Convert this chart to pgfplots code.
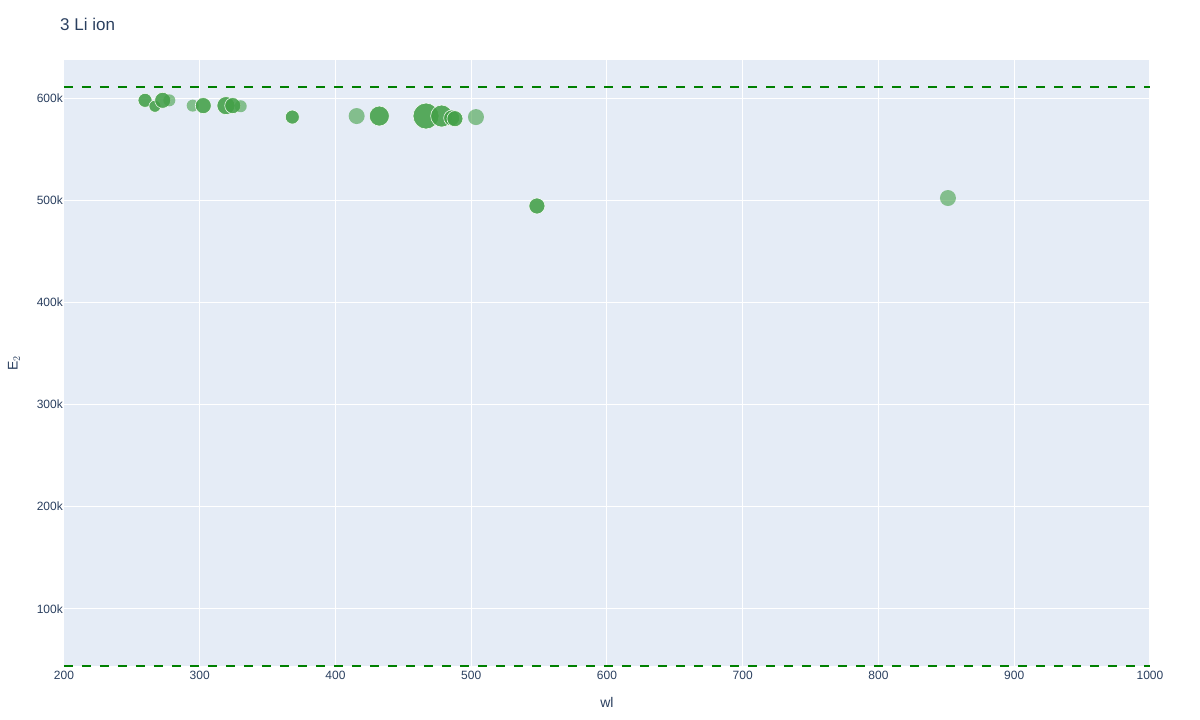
\documentclass[border=0pt]{standalone}
\usepackage{fontspec}
\setmainfont{Liberation Sans}
\usepackage{pgfplots}
\pgfplotsset{compat=1.18}

\definecolor{bgcol}{RGB}{229,236,246}
\definecolor{txtcol}{RGB}{42,63,95}
\definecolor{ptgreen}{RGB}{67,160,71}
\definecolor{dashgreen}{RGB}{0,128,0}

% dark and light bubbles, radius in pt
\pgfplotsset{
  dk/.style={ptgreen, only marks, mark=*, mark size=#1pt,
    mark options={fill=ptgreen, draw=white, line width=0.6pt, fill opacity=0.88, draw opacity=0.9}},
  lt/.style={ptgreen, only marks, mark=*, mark size=#1pt,
    mark options={fill=ptgreen, draw=ptgreen, draw opacity=0, fill opacity=0.6}},
}

\begin{document}
\begin{tikzpicture}
  % fixed canvas: 1200 x 720, plot area 1086 x 606
  \path[use as bounding box] (-64pt,-54pt) rectangle (1136pt,666pt);

  \begin{axis}[
      at={(0,0)}, anchor=south west,
      scale only axis,
      width=1086pt, height=606pt,
      xmin=200, xmax=1000,
      ymin=43900, ymax=637500,
      clip=false,
      axis background/.style={fill=bgcol},
      axis line style={draw=none},
      major tick length=0pt,
      grid=major,
      grid style={white, line width=1pt},
      xtick={200,300,...,1000},
      ytick={100000,200000,300000,400000,500000,600000},
      yticklabels={100k,200k,300k,400k,500k,600k},
      scaled y ticks=false,
      /pgf/number format/assume math mode=true,
      /pgf/number format/1000 sep={},
      tick label style={font=\fontsize{12}{14}\selectfont, text=txtcol},
      xticklabel style={inner sep=0pt, yshift=-5pt},
      yticklabel style={inner sep=1pt},
      xlabel={wl},
      ylabel={E$_2$},
      label style={font=\fontsize{14}{16}\selectfont, text=txtcol},
      xlabel style={at={(axis description cs:0.5,0)}, anchor=center, yshift=-36pt},
      ylabel style={at={(axis description cs:0,0.5)}, anchor=center, yshift=50pt},
    ]

    % reference lines
    \addplot[dashgreen, line width=2pt, dash pattern=on 9pt off 9pt]
      coordinates {(200,610800) (1000,610800)};
    \addplot[dashgreen, line width=2pt, dash pattern=on 9pt off 9pt]
      coordinates {(200,43900) (1000,43900)};

    % bubbles
    \addplot[dk=7]  coordinates {(259.7,598000)};
    \addplot[dk=6]  coordinates {(267.0,592200)};
    \addplot[dk=8]  coordinates {(272.7,598000)};
    \addplot[lt=6]  coordinates {(277.6,598000)};
    \addplot[lt=6]  coordinates {(294.8,592800)};
    \addplot[dk=8]  coordinates {(302.6,592800)};
    \addplot[dk=9]  coordinates {(319.3,592800)};
    \addplot[dk=8]  coordinates {(324.3,592800)};
    \addplot[lt=6]  coordinates {(330.2,592200)};
    \addplot[dk=7]  coordinates {(368.2,581600)};
    \addplot[lt=8]  coordinates {(415.6,582600)};
    \addplot[dk=10] coordinates {(432.3,582600)};
    \addplot[dk=13] coordinates {(466.7,582600)};
    \addplot[dk=11] coordinates {(478.2,582600)};
    \addplot[dk=8]  coordinates {(485.6,580700)};
    \addplot[dk=8]  coordinates {(488.0,580000)};
    \addplot[lt=8]  coordinates {(503.5,581600)};
    \addplot[dk=8]  coordinates {(548.4,494500)};
    \addplot[lt=8]  coordinates {(851.2,502300)};
  \end{axis}

  \node[anchor=west, inner sep=0pt, text=txtcol, font=\fontsize{17}{20}\selectfont] at (-4pt,642pt) {3 Li ion};
\end{tikzpicture}
\end{document}
